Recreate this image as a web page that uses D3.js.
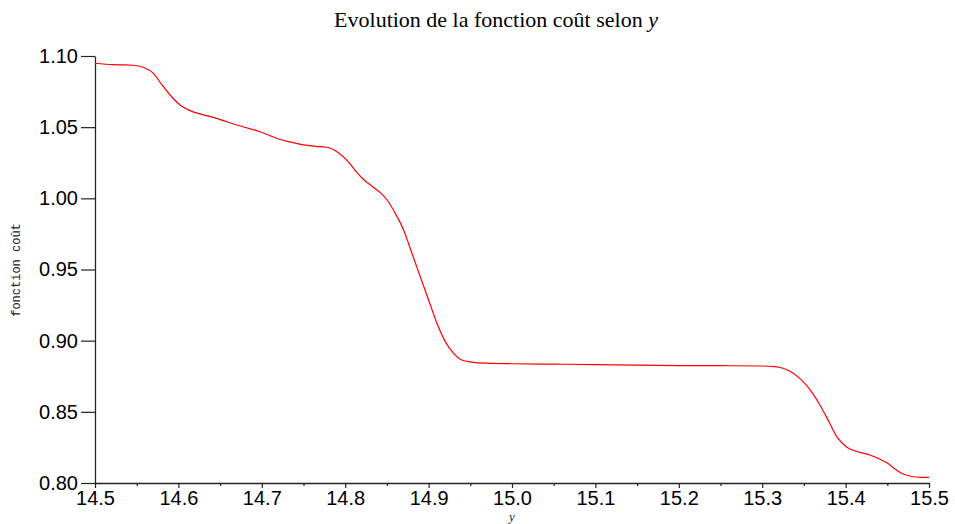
<!DOCTYPE html>
<html>
<head>
<meta charset="utf-8">
<script src="https://cdn.jsdelivr.net/npm/d3@7"></script>
<style>
  body { margin: 0; background: #fff; }
  svg { display: block; }
</style>
</head>
<body>
<script>
// values of y (abscissa)
var yValues = [14.5, 14.522, 14.546, 14.558, 14.570, 14.580, 14.590, 14.602, 14.614, 14.628,
  14.642, 14.656, 14.670, 14.684, 14.698, 14.710, 14.720, 14.735, 14.750, 14.765, 14.778,
  14.790, 14.802, 14.814, 14.822, 14.832, 14.842, 14.850, 14.860, 14.870, 14.880, 14.890,
  14.900, 14.910, 14.920, 14.930, 14.940, 14.954, 14.970, 15.0, 15.05, 15.1, 15.15, 15.2,
  15.25, 15.3, 15.315, 15.325, 15.335, 15.345, 15.354, 15.369, 15.381, 15.390, 15.402, 15.417,
  15.430, 15.440, 15.450, 15.460, 15.469, 15.481, 15.490, 15.5];

// cost function values
var costValues = [1.0949, 1.0939, 1.0935, 1.0921, 1.0878, 1.0800, 1.0726, 1.0656, 1.0616, 1.0590,
  1.0569, 1.0542, 1.0515, 1.0492, 1.0468, 1.0440, 1.0417, 1.0395, 1.0375, 1.0365, 1.0359,
  1.0328, 1.0269, 1.0182, 1.0132, 1.0086, 1.0040, 0.9990, 0.9895, 0.9778, 0.9614, 0.9450,
  0.9286, 0.9122, 0.8993, 0.8911, 0.8864, 0.8848, 0.8842, 0.8838, 0.8835, 0.8832, 0.8828, 0.8825,
  0.8824, 0.8822, 0.8818, 0.8806, 0.8780, 0.8735, 0.8680, 0.8550, 0.8420, 0.8320, 0.8250, 0.8215,
  0.8195, 0.8170, 0.8140, 0.8095, 0.8063, 0.8044, 0.8040, 0.8039];

var xTicks = [14.5, 14.6, 14.7, 14.8, 14.9, 15.0, 15.1, 15.2, 15.3, 15.4, 15.5];
var xMinorTicks = [14.55, 14.65, 14.75, 14.85, 14.95, 15.05, 15.15, 15.25, 15.35, 15.45];
var yTicks = [0.80, 0.85, 0.90, 0.95, 1.00, 1.05, 1.10];

var width = 955, height = 524;
var margin = {left: 95, right: 26, top: 56, bottom: 41};

var svg = d3.select('body').append('svg')
  .attr('width', width)
  .attr('height', height);

var x = d3.scaleLinear().domain([14.5, 15.5]).range([margin.left, width - margin.right]);
var y = d3.scaleLinear().domain([0.80, 1.10]).range([height - margin.bottom, margin.top]);

// x axis (major + minor ticks)
var xAxis = svg.append('g')
  .attr('transform', 'translate(0,' + (height - margin.bottom) + ')')
  .call(d3.axisBottom(x).tickValues(xTicks).tickFormat(d3.format('.1f')).tickSize(5).tickSizeOuter(0));
svg.append('g')
  .attr('transform', 'translate(0,' + (height - margin.bottom) + ')')
  .call(d3.axisBottom(x).tickValues(xMinorTicks).tickFormat('').tickSize(3).tickSizeOuter(0))
  .select('.domain').remove();

// y axis
var yAxis = svg.append('g')
  .attr('transform', 'translate(' + margin.left + ',0)')
  .call(d3.axisLeft(y).tickValues(yTicks).tickFormat(d3.format('.2f')).tickSize(14).tickSizeOuter(0));

svg.selectAll('.domain').attr('stroke', '#222').attr('stroke-width', 1.3);
svg.selectAll('.tick line').attr('stroke', '#222').attr('stroke-width', 1.2);

xAxis.selectAll('text')
  .attr('font-family', 'Liberation Sans, Arial, sans-serif')
  .attr('font-size', 20)
  .attr('fill', '#000')
  .attr('dy', '0.78em')
  .attr('y', 6);
yAxis.selectAll('text')
  .attr('font-family', 'Liberation Sans, Arial, sans-serif')
  .attr('font-size', 20)
  .attr('fill', '#000')
  .attr('x', -17);

// curve
var line = d3.line()
  .x(function(d, i) { return x(yValues[i]); })
  .y(function(d) { return y(d); })
  .curve(d3.curveMonotoneX);

svg.append('path')
  .datum(costValues)
  .attr('d', line)
  .attr('fill', 'none')
  .attr('stroke', '#ff0000')
  .attr('stroke-width', 1.2);

// title
var title = svg.append('text')
  .attr('x', 496)
  .attr('y', 27)
  .attr('text-anchor', 'middle')
  .attr('font-family', 'Liberation Serif, DejaVu Serif, serif')
  .attr('font-size', 22)
  .attr('fill', '#000');
title.append('tspan').text('Evolution de la fonction coût selon ');
title.append('tspan').attr('font-style', 'italic').text('y');

// axis labels
svg.append('text')
  .attr('x', 512)
  .attr('y', 521)
  .attr('text-anchor', 'middle')
  .attr('font-family', 'Liberation Serif, serif')
  .attr('font-style', 'italic')
  .attr('font-size', 13)
  .attr('fill', '#222')
  .text('y');

svg.append('text')
  .attr('transform', 'translate(20,270) rotate(-90)')
  .attr('text-anchor', 'middle')
  .attr('font-family', 'Liberation Mono, DejaVu Sans Mono, monospace')
  .attr('font-size', 12)
  .attr('fill', '#222')
  .text('fonction coût');
</script>
</body>
</html>
